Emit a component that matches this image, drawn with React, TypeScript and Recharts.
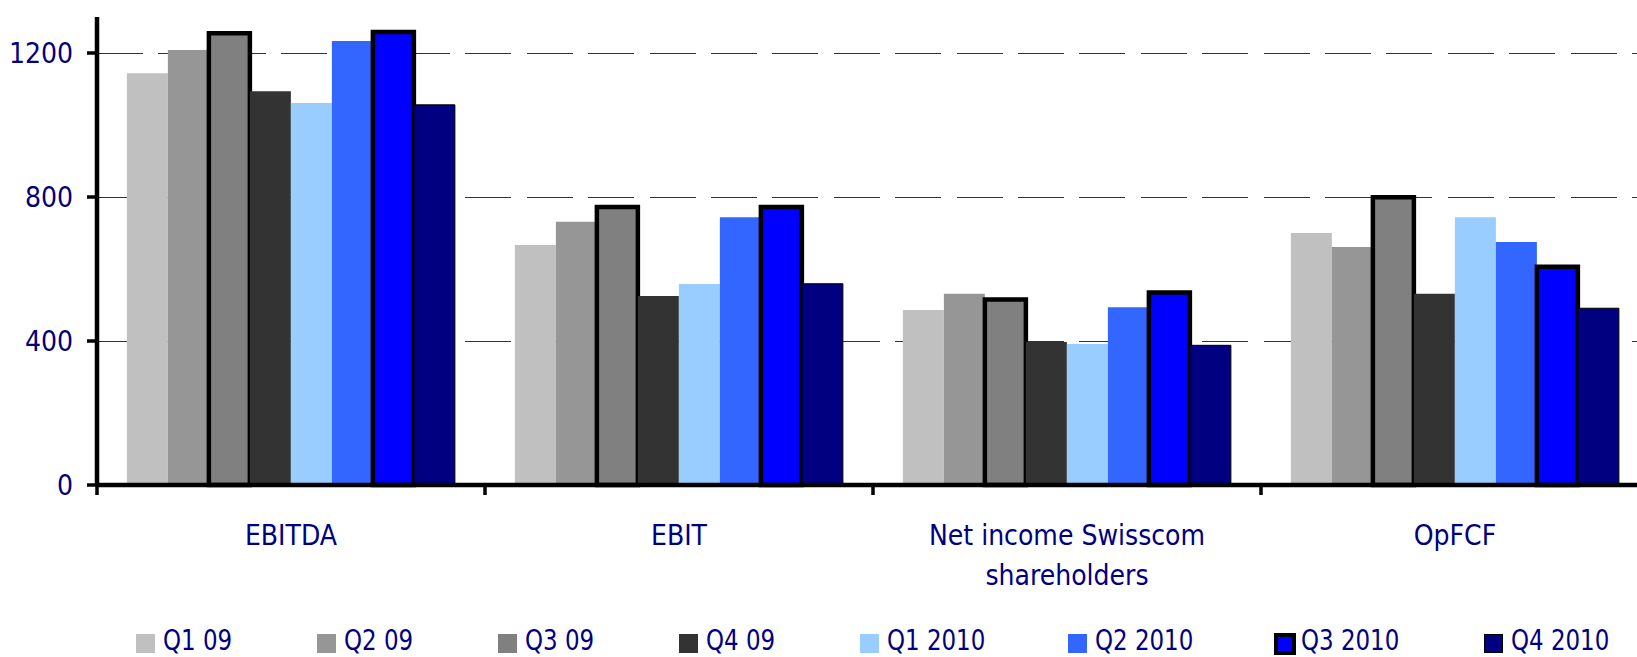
import { BarChart, Bar, XAxis, YAxis, CartesianGrid, Legend } from 'recharts';

const categories = ['EBITDA', 'EBIT', 'Net income Swisscom\nshareholders', 'OpFCF'];

const q109 = [1144, 667, 486, 700];
const q209 = [1208, 731, 531, 661];
const q309 = [1255, 772, 515, 799];
const q409 = [1094, 525, 397, 531];
const q110 = [1061, 558, 392, 744];
const q210 = [1233, 744, 494, 675];
const q310 = [1258, 772, 535, 606];
const q410 = [1056, 559, 388, 491];

const yTicks = [0, 400, 800, 1200];
const gridValues = [400, 800, 1200];

const series = [
  { key: 'q109', name: 'Q1 09', values: q109, fill: '#C0C0C0', stroke: 'none', sw: 0, legendBorder: 0 },
  { key: 'q209', name: 'Q2 09', values: q209, fill: '#969696', stroke: 'none', sw: 0, legendBorder: 0 },
  { key: 'q309', name: 'Q3 09', values: q309, fill: '#808080', stroke: '#000', sw: 4.5, legendBorder: 0 },
  { key: 'q409', name: 'Q4 09', values: q409, fill: '#333333', stroke: 'none', sw: 0, legendBorder: 0 },
  { key: 'q110', name: 'Q1 2010', values: q110, fill: '#99CCFF', stroke: 'none', sw: 0, legendBorder: 0 },
  { key: 'q210', name: 'Q2 2010', values: q210, fill: '#3366FF', stroke: 'none', sw: 0, legendBorder: 0 },
  { key: 'q310', name: 'Q3 2010', values: q310, fill: '#0000FF', stroke: '#000', sw: 4.5, legendBorder: 4 },
  { key: 'q410', name: 'Q4 2010', values: q410, fill: '#000080', stroke: '#000', sw: 1, legendBorder: 1 },
];

const data = categories.map((name, i) => {
  const row: Record<string, string | number> = { name };
  series.forEach((s) => {
    row[s.key] = s.values[i];
  });
  return row;
});

const labelFont = "'DejaVu Sans Condensed', 'DejaVu Sans', sans-serif";
const navy = '#000080';

const CategoryTick = (props: any) => {
  const { x, y, payload } = props;
  const half = payload && typeof payload.offset === 'number' ? payload.offset : 194;
  const lines = String(payload.value).split('\n');
  return (
    <g>
      <line x1={x - half} x2={x - half} y1={y} y2={y + 10} stroke="#000" strokeWidth={3.5} />
      <text x={x} y={y} textAnchor="middle" fill={navy} fontSize={28} fontFamily={labelFont}>
        {lines.map((l, i) => (
          <tspan key={i} x={x} dy={i === 0 ? 60 : 40}>
            {l}
          </tspan>
        ))}
      </text>
    </g>
  );
};

// legend text is a tall condensed face in the original; squeeze DejaVu a bit
const renderLegend = () => (
  <div
    style={{
      height: 30,
      boxSizing: 'border-box',
      paddingBottom: 3,
      paddingLeft: 136,
      display: 'flex',
      alignItems: 'center',
    }}
  >
    {series.map((s) => (
      <div
        key={s.key}
        style={{ display: 'flex', alignItems: 'center', flex: '0 0 auto', width: s.name.length > 5 ? 208 : 181 }}
      >
        <span
          style={{
            display: 'inline-block',
            position: 'relative',
            top: 3,
            width: s.legendBorder > 1 ? 22 : 19,
            height: s.legendBorder > 1 ? 22 : 19,
            boxSizing: 'border-box',
            background: s.fill,
            border: s.legendBorder ? `${s.legendBorder}px solid #000` : 'none',
            marginRight: s.legendBorder > 1 ? 5 : 8,
            marginLeft: s.legendBorder > 1 ? -2 : 0,
          }}
        />
        <span
          style={{
            display: 'inline-block',
            fontFamily: labelFont,
            fontSize: 28,
            lineHeight: '22px',
            color: navy,
            whiteSpace: 'nowrap',
            transform: 'scaleX(0.91)',
            transformOrigin: 'left center',
          }}
        >
          {s.name}
        </span>
      </div>
    ))}
  </div>
);

export default function App() {
  return (
    <div style={{ position: 'fixed', left: 0, top: 0, width: 1637, height: 657, overflow: 'hidden', background: '#fff' }}>
      <BarChart
        width={1660}
        height={657}
        data={data}
        margin={{ top: 17, right: 11, left: 0, bottom: 0 }}
        barCategoryGap="7.7%"
        barGap={0}
      >
        <CartesianGrid
          vertical={false}
          horizontalValues={gridValues}
          stroke="#333"
          strokeDasharray="46 15.4"
          shapeRendering="crispEdges"
        />
        <XAxis
          dataKey="name"
          interval={0}
          height={142}
          tickSize={0}
          tickMargin={0}
          tickLine={false}
          axisLine={{ stroke: '#000', strokeWidth: 4.5 }}
          tick={<CategoryTick />}
        />
        <YAxis
          width={97}
          domain={[0, 1300]}
          ticks={yTicks}
          tickSize={10}
          tickMargin={14}
          axisLine={{ stroke: '#000', strokeWidth: 4.5 }}
          tickLine={{ stroke: '#000', strokeWidth: 3.5 }}
          tick={{ fill: navy, fontSize: 28, fontFamily: labelFont }}
        />
        <Legend verticalAlign="bottom" content={renderLegend} />
        {series.map((s) => (
          <Bar
            key={s.key}
            dataKey={s.key}
            name={s.name}
            fill={s.fill}
            stroke={s.stroke}
            strokeWidth={s.sw}
            isAnimationActive={false}
          />
        ))}
      </BarChart>
    </div>
  );
}
